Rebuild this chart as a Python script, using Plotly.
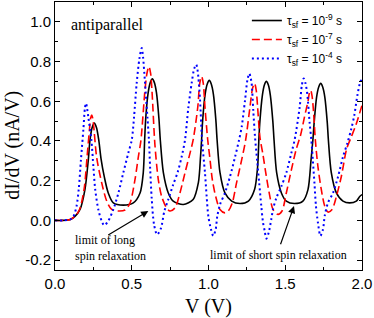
import plotly.graph_objects as go

# ---- data ----
black_points = [
    (0.0, 0.0), (0.05, 0.0), (0.10, 0.005), (0.13, 0.02), (0.163, 0.055), (0.195, 0.155),
    (0.217, 0.305), (0.228, 0.405), (0.242, 0.468), (0.256, 0.49), (0.27, 0.468), (0.285, 0.405),
    (0.30, 0.31), (0.321, 0.22), (0.347, 0.138), (0.38, 0.088), (0.445, 0.077), (0.51, 0.088),
    (0.554, 0.138), (0.575, 0.24), (0.584, 0.405), (0.591, 0.513), (0.607, 0.643), (0.621, 0.695),
    (0.634, 0.713), (0.647, 0.695), (0.661, 0.643), (0.677, 0.513), (0.686, 0.405), (0.706, 0.24),
    (0.738, 0.138), (0.77, 0.097), (0.836, 0.08), (0.90, 0.105), (0.934, 0.19), (0.948, 0.32),
    (0.955, 0.405), (0.962, 0.505), (0.978, 0.635), (0.992, 0.687), (1.005, 0.705), (1.018, 0.687),
    (1.032, 0.635), (1.048, 0.505), (1.056, 0.405), (1.075, 0.24), (1.107, 0.138), (1.151, 0.097),
    (1.205, 0.085), (1.26, 0.097), (1.30, 0.155), (1.320, 0.27), (1.328, 0.405), (1.335, 0.50),
    (1.351, 0.63), (1.364, 0.682), (1.377, 0.70), (1.390, 0.682), (1.403, 0.63), (1.419, 0.50),
    (1.427, 0.405), (1.444, 0.24), (1.475, 0.138), (1.507, 0.097), (1.56, 0.085), (1.615, 0.097),
    (1.648, 0.155), (1.668, 0.305), (1.68, 0.405), (1.688, 0.49), (1.704, 0.62), (1.718, 0.672),
    (1.731, 0.69), (1.744, 0.672), (1.758, 0.62), (1.774, 0.49), (1.781, 0.405), (1.80, 0.24),
    (1.833, 0.138), (1.876, 0.097), (1.92, 0.088), (1.963, 0.097), (1.985, 0.12), (2.0, 0.13),
]

red_points = [
    (0.0, 0.0), (0.05, 0.0), (0.10, 0.005), (0.13, 0.02), (0.16, 0.055), (0.19, 0.16),
    (0.21, 0.33), (0.226, 0.47), (0.232, 0.515), (0.239, 0.53), (0.247, 0.51), (0.255, 0.45),
    (0.271, 0.32), (0.304, 0.19), (0.337, 0.097), (0.369, 0.055), (0.413, 0.047), (0.456, 0.052),
    (0.489, 0.088), (0.521, 0.205), (0.543, 0.32), (0.56, 0.405), (0.586, 0.655), (0.600, 0.745),
    (0.612, 0.775), (0.623, 0.74), (0.632, 0.65), (0.651, 0.38), (0.673, 0.205), (0.695, 0.12),
    (0.727, 0.063), (0.749, 0.047), (0.782, 0.063), (0.814, 0.138), (0.847, 0.24), (0.88, 0.34),
    (0.90, 0.405), (0.93, 0.57), (0.943, 0.69), (0.955, 0.725), (0.966, 0.69), (0.977, 0.57),
    (0.995, 0.405), (1.008, 0.32), (1.025, 0.205), (1.047, 0.12), (1.075, 0.055), (1.107, 0.038),
    (1.129, 0.047), (1.155, 0.088), (1.183, 0.19), (1.216, 0.305), (1.242, 0.405), (1.27, 0.57),
    (1.287, 0.665), (1.30, 0.69), (1.311, 0.655), (1.32, 0.57), (1.335, 0.42), (1.355, 0.33),
    (1.377, 0.22), (1.40, 0.12), (1.42, 0.055), (1.453, 0.03), (1.479, 0.047), (1.507, 0.138),
    (1.54, 0.255), (1.572, 0.36), (1.60, 0.43), (1.625, 0.52), (1.648, 0.60), (1.657, 0.64),
    (1.666, 0.655), (1.675, 0.625), (1.684, 0.55), (1.696, 0.405), (1.713, 0.27), (1.735, 0.155),
    (1.757, 0.072), (1.778, 0.042), (1.805, 0.055), (1.833, 0.12), (1.865, 0.22), (1.90, 0.36),
    (1.93, 0.42), (1.96, 0.48), (2.0, 0.58),
]

blue_points = [
    (0.0, 0.0), (0.05, 0.0), (0.10, 0.005), (0.12, 0.02), (0.14, 0.07), (0.155, 0.16),
    (0.169, 0.305), (0.185, 0.46), (0.195, 0.565), (0.202, 0.59), (0.209, 0.565), (0.217, 0.52),
    (0.237, 0.405), (0.25, 0.27), (0.262, 0.155), (0.282, 0.055), (0.304, -0.003), (0.321, -0.025),
    (0.347, -0.003), (0.38, 0.055), (0.413, 0.138), (0.445, 0.24), (0.478, 0.34), (0.50, 0.405),
    (0.515, 0.52), (0.532, 0.69), (0.55, 0.815), (0.565, 0.868), (0.574, 0.82), (0.582, 0.74),
    (0.602, 0.52), (0.612, 0.405), (0.62, 0.26), (0.63, 0.11), (0.645, -0.02), (0.665, -0.072),
    (0.69, -0.04), (0.712, 0.045), (0.738, 0.105), (0.77, 0.18), (0.80, 0.245), (0.825, 0.32),
    (0.847, 0.405), (0.869, 0.57), (0.89, 0.69), (0.907, 0.765), (0.92, 0.785), (0.928, 0.76),
    (0.934, 0.72), (0.945, 0.605), (0.958, 0.405), (0.977, 0.24), (0.988, 0.12), (0.999, 0.02),
    (1.016, -0.045), (1.031, -0.078), (1.047, -0.045), (1.057, 0.02), (1.075, 0.08), (1.107, 0.138),
    (1.14, 0.22), (1.173, 0.32), (1.199, 0.405), (1.216, 0.47), (1.238, 0.605), (1.254, 0.71),
    (1.266, 0.74), (1.274, 0.72), (1.281, 0.69), (1.292, 0.55), (1.303, 0.42), (1.317, 0.30),
    (1.33, 0.19), (1.344, 0.072), (1.355, -0.01), (1.366, -0.053), (1.377, -0.092), (1.392, -0.062),
    (1.409, 0.005), (1.42, 0.055), (1.442, 0.113), (1.475, 0.172), (1.507, 0.24), (1.54, 0.34),
    (1.561, 0.405), (1.594, 0.57), (1.608, 0.68), (1.62, 0.715), (1.632, 0.69), (1.643, 0.64),
    (1.659, 0.49), (1.67, 0.405), (1.68, 0.30), (1.69, 0.19), (1.70, 0.072), (1.713, -0.012),
    (1.729, -0.078), (1.746, -0.045), (1.757, 0.022), (1.778, 0.088), (1.811, 0.138), (1.844, 0.22),
    (1.876, 0.32), (1.905, 0.39), (1.93, 0.46), (1.95, 0.53), (1.97, 0.63), (1.99, 0.70),
    (2.0, 0.71),
]

series_names = [
    "\u03c4<sub>sf</sub> = 10<sup>-9</sup> s",
    "\u03c4<sub>sf</sub> = 10<sup>-7</sup> s",
    "\u03c4<sub>sf</sub> = 10<sup>-4</sup> s",
]

x_tick_vals = [0.0, 0.5, 1.0, 1.5, 2.0]
x_tick_labels = ["0.0", "0.5", "1.0", "1.5", "2.0"]
y_tick_vals = [-0.2, 0.0, 0.2, 0.4, 0.6, 0.8, 1.0]
y_tick_labels = ["-0.2", "0.0", "0.2", "0.4", "0.6", "0.8", "1.0"]

SERIF = "Liberation Serif, Times New Roman, serif"
SANS = "Liberation Sans, Arial, sans-serif"

fig = go.Figure()
styles = [
    dict(color="black", width=1.6, dash="solid"),
    dict(color="#ff0000", width=1.6, dash="8px,4px"),
    dict(color="#0000ff", width=2.0, dash="2px,3px"),
]
for pts, name, st in zip([black_points, red_points, blue_points], series_names, styles):
    xs = [p[0] for p in pts]
    ys = [p[1] for p in pts]
    fig.add_trace(go.Scatter(x=xs, y=ys, mode="lines", name=name,
                             line=dict(color=st["color"], width=st["width"], dash=st["dash"],
                                       shape="spline", smoothing=0.8)))

axis_common = dict(
    showline=True, linecolor="black", linewidth=1, mirror="allticks",
    ticks="inside", ticklen=5, tickwidth=1, tickcolor="black",
    showgrid=False, zeroline=False,
    tickfont=dict(family=SANS, size=15, color="black"),
)

fig.update_xaxes(range=[0, 2], tickvals=x_tick_vals, ticktext=x_tick_labels,
                 minor=dict(ticks="inside", ticklen=3, dtick=0.25, tick0=0, tickcolor="black"),
                 title=dict(text="V (V)", font=dict(family=SERIF, size=20, color="black"), standoff=7),
                 **axis_common)
fig.update_yaxes(range=[-0.25, 1.1], tickvals=y_tick_vals, ticktext=y_tick_labels,
                 minor=dict(ticks="inside", ticklen=3, dtick=0.1, tick0=0, tickcolor="black"),
                 **axis_common)

fig.add_annotation(text="dI/dV (nA/V)", xref="paper", yref="paper", x=-0.141, y=0.466,
                   textangle=-90, showarrow=False, xanchor="center", yanchor="middle",
                   font=dict(family=SERIF, size=20, color="black"))

fig.add_annotation(text="antiparallel", xref="x", yref="y", x=0.09, y=0.985,
                   xanchor="left", yanchor="middle", showarrow=False,
                   font=dict(family=SERIF, size=16, color="black"))

fig.add_annotation(text="limit of long<br>spin relaxation", xref="x", yref="y", x=0.115, y=-0.137,
                   xanchor="left", yanchor="middle", align="left", showarrow=False,
                   font=dict(family=SERIF, size=12, color="black"))
fig.add_annotation(text="", xref="x", yref="y", axref="x", ayref="y",
                   x=0.608, y=0.047, ax=0.337, ay=-0.078,
                   showarrow=True, arrowhead=2, arrowsize=1.2, arrowwidth=1.2, arrowcolor="black")

fig.add_annotation(text="limit of short spin relaxation", xref="x", yref="y", x=0.995, y=-0.175,
                   xanchor="left", yanchor="middle", align="left", showarrow=False,
                   font=dict(family=SERIF, size=12, color="black"))
fig.add_annotation(text="", xref="x", yref="y", axref="x", ayref="y",
                   x=1.557, y=0.072, ax=1.466, ay=-0.128,
                   showarrow=True, arrowhead=2, arrowsize=1.2, arrowwidth=1.2, arrowcolor="black")

fig.update_layout(
    width=374, height=318,
    margin=dict(l=55, r=12, t=2, b=48),
    paper_bgcolor="white", plot_bgcolor="white",
    showlegend=True,
    legend=dict(x=0.625, y=0.985, xanchor="left", yanchor="top",
                bgcolor="rgba(0,0,0,0)", borderwidth=0,
                font=dict(family=SANS, size=12, color="black"),
                tracegroupgap=0),
)

fig.write_html("out.html", config={"displayModeBar": False},
               post_script="document.body.style.margin='0';")
